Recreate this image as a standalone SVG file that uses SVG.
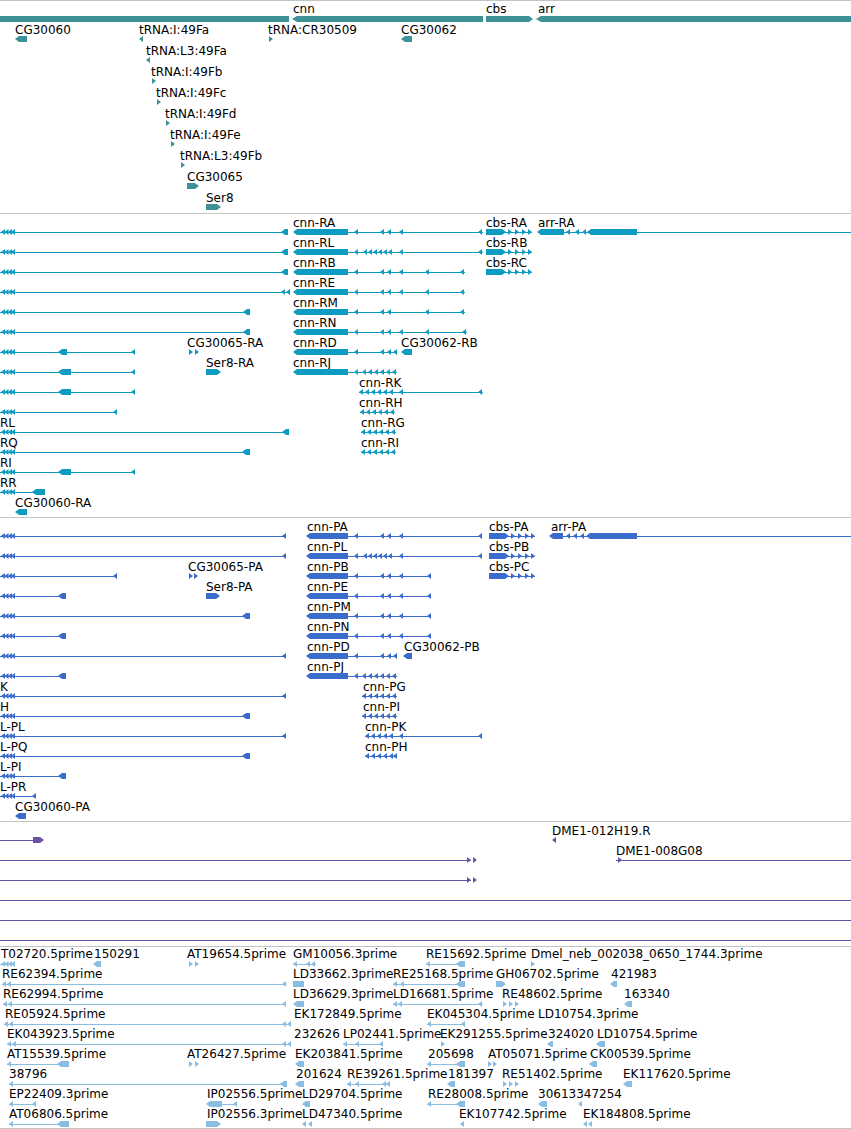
<svg xmlns="http://www.w3.org/2000/svg" width="851" height="1129" viewBox="0 0 851 1129">
<style>
text{font-family:"DejaVu Sans","Liberation Sans",sans-serif;font-size:12px;fill:#000;stroke:none}
.ln{fill:none;stroke:currentColor;stroke-width:1}
.s1{fill:#3e9196;color:#3e9196}
.s2{fill:#0d9bc2;color:#0d9bc2}
.s3{fill:#3a6ccc;color:#3a6ccc}
.s4{fill:#6a52a3;color:#6a52a3}
.s5{fill:#89bde2;color:#89bde2}
.sep{fill:#c4c4c4}
</style>
<defs>
<path id="la" d="M0,0L4,-3V3Z"/>
<path id="ra" d="M0,0L-4,-3V3Z"/>
<g id="l3"><path class="ln" d="M0,0.5H14"/><use href="#la" x="1"/><use href="#la" x="4.5"/><use href="#la" x="8"/><use href="#la" x="11"/></g>
<g id="cbsg"><path class="ln" d="M0,0.5H46"/><path d="M0,-3H16l4,3l-4,3H0z"/><use href="#ra" x="26"/><use href="#ra" x="33"/><use href="#ra" x="40"/><use href="#ra" x="46"/></g>
<g id="clus"><path class="ln" d="M0,0.5H35"/><use href="#la"/><use href="#la" x="6"/><use href="#la" x="12"/><use href="#la" x="18"/><use href="#la" x="24"/><use href="#la" x="30"/></g>
<path id="cnn2" d="M293,0l4,-3H348v6H297z"/>
<path id="cnn3" d="M306,0l4,-3H348v6H310z"/>
</defs>
<rect width="851" height="1129" fill="#fff"/>
<g id="separators" class="sep">
<rect x="0" y="0" width="851" height="1"/>
<rect x="0" y="213" width="851" height="1"/>
<rect x="0" y="517" width="851" height="1"/>
<rect x="0" y="821" width="851" height="1"/>
<rect x="0" y="946" width="851" height="1"/>
<rect x="0" y="1128" width="851" height="1"/>
</g>

<g id="track-genes" class="s1">
<g id="gene-upstream"><path d="M0,16H289V22H0z"/></g>
<g id="gene-cnn"><text x="293" y="13">cnn</text><path d="M292,19l5,-3H483v6H297z"/></g>
<g id="gene-cbs"><text x="486" y="13">cbs</text><path d="M486,16H529l4,3l-4,3H486z"/></g>
<g id="gene-arr"><text x="538" y="13">arr</text><path d="M536,19l5,-3H851v6H541z"/></g>
<g transform="translate(0,39)">
<g id="CG30060"><text x="15" y="-5">CG30060</text><path d="M15,0l4,-3H27v6H19z"/></g>
<g id="tRNA-I-49Fa"><text x="139" y="-5">tRNA:I:49Fa</text><use href="#la" x="139"/></g>
<g id="tRNA-CR30509"><text x="268" y="-5">tRNA:CR30509</text><use href="#ra" x="273"/></g>
<g id="CG30062"><text x="401" y="-5">CG30062</text><path d="M401,0l4,-3H412v6H405z"/></g>
</g>
<g id="tRNA-L3-49Fa" transform="translate(0,60)"><text x="146" y="-5">tRNA:L3:49Fa</text><use href="#la" x="146"/></g>
<g id="tRNA-I-49Fb" transform="translate(0,81)"><text x="151" y="-5">tRNA:I:49Fb</text><use href="#ra" x="156"/></g>
<g id="tRNA-I-49Fc" transform="translate(0,102)"><text x="156" y="-5">tRNA:I:49Fc</text><use href="#ra" x="161"/></g>
<g id="tRNA-I-49Fd" transform="translate(0,123)"><text x="165" y="-5">tRNA:I:49Fd</text><use href="#ra" x="170"/></g>
<g id="tRNA-I-49Fe" transform="translate(0,144)"><text x="170" y="-5">tRNA:I:49Fe</text><use href="#ra" x="175"/></g>
<g id="tRNA-L3-49Fb" transform="translate(0,165)"><text x="180" y="-5">tRNA:L3:49Fb</text><use href="#ra" x="185"/></g>
<g id="CG30065" transform="translate(0,186)"><text x="187" y="-5">CG30065</text><path d="M187,-3H195l4,3l-4,3H187z"/></g>
<g id="Ser8" transform="translate(0,207)"><text x="206" y="-5">Ser8</text><path d="M206,-3H217l4,3l-4,3H206z"/></g>
</g>

<g id="track-transcripts" class="s2">
<g transform="translate(0,232)">
<g id="t2-r0-left"><use href="#l3"/><path class="ln" d="M14,0.5H284"/><path d="M281,0l4,-3H288v6H285z"/></g>
<g id="cnn-RA"><text x="293" y="-5">cnn-RA</text><use href="#cnn2"/><path class="ln" d="M348,0.5H483"/><use href="#la" x="354"/><use href="#la" x="380"/><use href="#la" x="387"/><use href="#la" x="399"/><use href="#la" x="478"/></g>
<g id="cbs-RA"><text x="486" y="-5">cbs-RA</text><use href="#cbsg" x="486"/></g>
<g id="arr-RA"><text x="538" y="-5">arr-RA</text><path class="ln" d="M564,0.5H851"/><path d="M537,0l4,-3H564v6H541z"/><use href="#la" x="566"/><use href="#la" x="575"/><use href="#la" x="582"/><path d="M587,0l4,-3H637v6H591z"/></g>
</g>
<g transform="translate(0,252)">
<g id="t2-r1-left"><use href="#l3"/><path class="ln" d="M14,0.5H284"/><path d="M281,0l4,-3H288v6H285z"/></g>
<g id="cnn-RL"><text x="293" y="-5">cnn-RL</text><use href="#cnn2"/><path class="ln" d="M348,0.5H483"/><use href="#la" x="354"/><use href="#la" x="363"/><use href="#la" x="368"/><use href="#la" x="373"/><use href="#la" x="378"/><use href="#la" x="383"/><use href="#la" x="388"/><use href="#la" x="399"/><use href="#la" x="478"/></g>
<g id="cbs-RB"><text x="486" y="-5">cbs-RB</text><use href="#cbsg" x="486"/></g>
</g>
<g transform="translate(0,272)">
<g id="t2-r2-left"><use href="#l3"/><path class="ln" d="M14,0.5H284"/><path d="M281,0l4,-3H288v6H285z"/></g>
<g id="cnn-RB"><text x="293" y="-5">cnn-RB</text><use href="#cnn2"/><path class="ln" d="M348,0.5H465"/><use href="#la" x="354"/><use href="#la" x="380"/><use href="#la" x="387"/><use href="#la" x="399"/><use href="#la" x="425"/><use href="#la" x="460"/></g>
<g id="cbs-RC"><text x="486" y="-5">cbs-RC</text><use href="#cbsg" x="486"/></g>
</g>
<g transform="translate(0,292)">
<g id="t2-r3-left"><use href="#l3"/><path class="ln" d="M14,0.5H290"/><use href="#la" x="281"/><use href="#la" x="286"/></g>
<g id="cnn-RE"><text x="293" y="-5">cnn-RE</text><use href="#cnn2"/><path class="ln" d="M348,0.5H465"/><use href="#la" x="354"/><use href="#la" x="380"/><use href="#la" x="387"/><use href="#la" x="399"/><use href="#la" x="425"/><use href="#la" x="460"/></g>
</g>
<g transform="translate(0,312)">
<g id="t2-r4-left"><use href="#l3"/><path class="ln" d="M14,0.5H250"/><path d="M243,0l4,-3H250v6H247z"/></g>
<g id="cnn-RM"><text x="293" y="-5">cnn-RM</text><use href="#cnn2"/><path class="ln" d="M348,0.5H465"/><use href="#la" x="354"/><use href="#la" x="380"/><use href="#la" x="387"/><use href="#la" x="425"/><use href="#la" x="460"/></g>
</g>
<g transform="translate(0,332)">
<g id="t2-r5-left"><use href="#l3"/><path class="ln" d="M14,0.5H250"/><path d="M243,0l4,-3H250v6H247z"/></g>
<g id="cnn-RN"><text x="293" y="-5">cnn-RN</text><use href="#cnn2"/><path class="ln" d="M348,0.5H467"/><use href="#la" x="354"/><use href="#la" x="380"/><use href="#la" x="387"/><use href="#la" x="399"/><use href="#la" x="425"/><use href="#la" x="462"/></g>
</g>
<g transform="translate(0,352)">
<g id="t2-r6-left"><use href="#l3"/><path class="ln" d="M14,0.5H135"/><path d="M58,0l4,-3H67v6H62z"/><use href="#la" x="131"/></g>
<g id="CG30065-RA"><text x="187" y="-5">CG30065-RA</text><use href="#ra" x="193"/><use href="#ra" x="199"/></g>
<g id="cnn-RD"><text x="293" y="-5">cnn-RD</text><use href="#cnn2"/><path class="ln" d="M348,0.5H397"/><use href="#la" x="354"/><use href="#la" x="380"/><use href="#la" x="387"/><use href="#la" x="393"/></g>
<g id="CG30062-RB"><text x="401" y="-5">CG30062-RB</text><path d="M401,0l4,-3H412v6H405z"/></g>
</g>
<g transform="translate(0,372)">
<g id="t2-r7-left"><use href="#l3"/><path class="ln" d="M14,0.5H135"/><path d="M58,0l4,-3H71v6H62z"/><use href="#la" x="131"/></g>
<g id="Ser8-RA"><text x="206" y="-5">Ser8-RA</text><path d="M206,-3H217l4,3l-4,3H206z"/></g>
<g id="cnn-RJ"><text x="293" y="-5">cnn-RJ</text><use href="#cnn2"/><path class="ln" d="M348,0.5H362"/><use href="#la" x="354"/><use href="#clus" x="362"/></g>
</g>
<g transform="translate(0,392)">
<g id="t2-r8-left"><use href="#l3"/><path class="ln" d="M14,0.5H135"/><path d="M58,0l4,-3H71v6H62z"/><use href="#la" x="131"/></g>
<g id="cnn-RK"><text x="359" y="-5">cnn-RK</text><path class="ln" d="M359,0.5H483"/><use href="#clus" x="359"/><use href="#la" x="399"/><use href="#la" x="478"/></g>
</g>
<g transform="translate(0,412)">
<g id="t2-r9-left"><use href="#l3"/><path class="ln" d="M14,0.5H117"/><use href="#la" x="113"/></g>
<g id="cnn-RH"><text x="359" y="-5">cnn-RH</text><use href="#clus" x="360"/></g>
</g>
<g transform="translate(0,432)">
<g id="t2-r10-left"><text x="0" y="-5">RL</text><use href="#l3"/><path class="ln" d="M14,0.5H289"/><path d="M282,0l4,-3H289v6H286z"/></g>
<g id="cnn-RG"><text x="361" y="-5">cnn-RG</text><use href="#clus" x="361"/></g>
</g>
<g transform="translate(0,452)">
<g id="t2-r11-left"><text x="0" y="-5">RQ</text><use href="#l3"/><path class="ln" d="M14,0.5H250"/><path d="M242,0l4,-3H250v6H246z"/></g>
<g id="cnn-RI"><text x="361" y="-5">cnn-RI</text><use href="#clus" x="361"/></g>
</g>
<g transform="translate(0,472)">
<g id="t2-r12-left"><text x="0" y="-5">RI</text><use href="#l3"/><path class="ln" d="M14,0.5H135"/><path d="M58,0l4,-3H71v6H62z"/><use href="#la" x="131"/></g>
</g>
<g transform="translate(0,492)">
<g id="t2-r13-left"><text x="0" y="-5">RR</text><use href="#l3"/><path class="ln" d="M14,0.5H45"/><path d="M32,0l4,-3H45v6H36z"/></g>
</g>
<g transform="translate(0,512)">
<g id="CG30060-RA"><text x="15" y="-5">CG30060-RA</text><path d="M15,0l4,-3H27v6H19z"/></g>
</g>
</g>

<g id="track-proteins" class="s3">
<g transform="translate(0,536)">
<g id="t3-r0-left"><use href="#l3"/><path class="ln" d="M14,0.5H286"/><use href="#la" x="282"/></g>
<g id="cnn-PA"><text x="307" y="-5">cnn-PA</text><use href="#cnn3"/><path class="ln" d="M348,0.5H482"/><use href="#la" x="354"/><use href="#la" x="380"/><use href="#la" x="387"/><use href="#la" x="399"/><use href="#la" x="478"/></g>
<g id="cbs-PA"><text x="489" y="-5">cbs-PA</text><use href="#cbsg" x="489"/></g>
<g id="arr-PA"><text x="551" y="-5">arr-PA</text><path class="ln" d="M563,0.5H851"/><path d="M549,0l4,-3H563v6H553z"/><use href="#la" x="566"/><use href="#la" x="573"/><use href="#la" x="580"/><path d="M586,0l4,-3H637v6H590z"/></g>
</g>
<g transform="translate(0,556)">
<g id="t3-r1-left"><use href="#l3"/><path class="ln" d="M14,0.5H286"/><use href="#la" x="282"/></g>
<g id="cnn-PL"><text x="307" y="-5">cnn-PL</text><use href="#cnn3"/><path class="ln" d="M348,0.5H482"/><use href="#la" x="354"/><use href="#la" x="363"/><use href="#la" x="368"/><use href="#la" x="373"/><use href="#la" x="378"/><use href="#la" x="383"/><use href="#la" x="388"/><use href="#la" x="399"/><use href="#la" x="478"/></g>
<g id="cbs-PB"><text x="489" y="-5">cbs-PB</text><use href="#cbsg" x="489"/></g>
</g>
<g transform="translate(0,576)">
<g id="t3-r2-left"><use href="#l3"/><path class="ln" d="M14,0.5H117"/><use href="#la" x="113"/></g>
<g id="CG30065-PA"><text x="188" y="-5">CG30065-PA</text><use href="#ra" x="193"/><use href="#ra" x="198"/></g>
<g id="cnn-PB"><text x="307" y="-5">cnn-PB</text><use href="#cnn3"/><path class="ln" d="M348,0.5H431"/><use href="#la" x="354"/><use href="#la" x="380"/><use href="#la" x="387"/><use href="#la" x="399"/><use href="#la" x="427"/></g>
<g id="cbs-PC"><text x="489" y="-5">cbs-PC</text><use href="#cbsg" x="489"/></g>
</g>
<g transform="translate(0,596)">
<g id="t3-r3-left"><use href="#l3"/><path class="ln" d="M14,0.5H66"/><path d="M58,0l4,-3H66v6H62z"/></g>
<g id="Ser8-PA"><text x="206" y="-5">Ser8-PA</text><path d="M206,-3H216l4,3l-4,3H206z"/></g>
<g id="cnn-PE"><text x="307" y="-5">cnn-PE</text><use href="#cnn3"/><path class="ln" d="M348,0.5H431"/><use href="#la" x="354"/><use href="#la" x="380"/><use href="#la" x="387"/><use href="#la" x="399"/><use href="#la" x="427"/></g>
</g>
<g transform="translate(0,616)">
<g id="t3-r4-left"><use href="#l3"/><path class="ln" d="M14,0.5H250"/><path d="M242,0l4,-3H250v6H246z"/></g>
<g id="cnn-PM"><text x="307" y="-5">cnn-PM</text><use href="#cnn3"/><path class="ln" d="M348,0.5H431"/><use href="#la" x="354"/><use href="#la" x="380"/><use href="#la" x="387"/><use href="#la" x="399"/><use href="#la" x="427"/></g>
</g>
<g transform="translate(0,636)">
<g id="t3-r5-left"><use href="#l3"/><path class="ln" d="M14,0.5H66"/><path d="M58,0l4,-3H66v6H62z"/></g>
<g id="cnn-PN"><text x="307" y="-5">cnn-PN</text><use href="#cnn3"/><path class="ln" d="M348,0.5H431"/><use href="#la" x="354"/><use href="#la" x="380"/><use href="#la" x="387"/><use href="#la" x="399"/><use href="#la" x="427"/></g>
</g>
<g transform="translate(0,656)">
<g id="t3-r6-left"><use href="#l3"/><path class="ln" d="M14,0.5H286"/><use href="#la" x="282"/></g>
<g id="cnn-PD"><text x="307" y="-5">cnn-PD</text><use href="#cnn3"/><path class="ln" d="M348,0.5H397"/><use href="#la" x="354"/><use href="#la" x="380"/><use href="#la" x="387"/><use href="#la" x="393"/></g>
<g id="CG30062-PB"><text x="404" y="-5">CG30062-PB</text><path d="M403,0l4,-3H412v6H407z"/></g>
</g>
<g transform="translate(0,676)">
<g id="t3-r7-left"><use href="#l3"/><path class="ln" d="M14,0.5H66"/><path d="M58,0l4,-3H66v6H62z"/></g>
<g id="cnn-PJ"><text x="307" y="-5">cnn-PJ</text><use href="#cnn3"/><path class="ln" d="M348,0.5H362"/><use href="#la" x="354"/><use href="#clus" x="362"/></g>
</g>
<g transform="translate(0,696)">
<g id="t3-r8-left"><text x="0" y="-5">K</text><use href="#l3"/><path class="ln" d="M14,0.5H286"/><use href="#la" x="282"/></g>
<g id="cnn-PG"><text x="363" y="-5">cnn-PG</text><use href="#clus" x="362"/></g>
</g>
<g transform="translate(0,716)">
<g id="t3-r9-left"><text x="0" y="-5">H</text><use href="#l3"/><path class="ln" d="M14,0.5H250"/><path d="M242,0l4,-3H250v6H246z"/></g>
<g id="cnn-PI"><text x="363" y="-5">cnn-PI</text><use href="#clus" x="362"/></g>
</g>
<g transform="translate(0,736)">
<g id="t3-r10-left"><text x="0" y="-5">L-PL</text><use href="#l3"/><path class="ln" d="M14,0.5H286"/><use href="#la" x="282"/></g>
<g id="cnn-PK"><text x="365" y="-5">cnn-PK</text><path class="ln" d="M365,0.5H482"/><use href="#la" x="365"/><use href="#la" x="371"/><use href="#la" x="377"/><use href="#la" x="383"/><use href="#la" x="389"/><use href="#la" x="399"/><use href="#la" x="478"/></g>
</g>
<g transform="translate(0,756)">
<g id="t3-r11-left"><text x="0" y="-5">L-PQ</text><use href="#l3"/><path class="ln" d="M14,0.5H250"/><path d="M242,0l4,-3H250v6H246z"/></g>
<g id="cnn-PH"><text x="365" y="-5">cnn-PH</text><path class="ln" d="M365,0.5H397"/><use href="#la" x="365"/><use href="#la" x="371"/><use href="#la" x="377"/><use href="#la" x="383"/><use href="#la" x="389"/><use href="#la" x="393"/></g>
</g>
<g transform="translate(0,776)">
<g id="t3-r12-left"><text x="0" y="-5">L-PI</text><use href="#l3"/><path class="ln" d="M14,0.5H66"/><path d="M58,0l4,-3H66v6H62z"/></g>
</g>
<g transform="translate(0,796)">
<g id="t3-r13-left"><text x="0" y="-5">L-PR</text><use href="#l3"/><path class="ln" d="M14,0.5H36"/><use href="#la" x="32"/></g>
</g>
<g transform="translate(0,816)">
<g id="CG30060-PA"><text x="15" y="-5">CG30060-PA</text><path d="M15,0l4,-3H26v6H19z"/></g>
</g>
</g>

<g id="track-clones" class="s4">
<g transform="translate(0,840)">
<g id="c4-r0-left"><path class="ln" d="M0,0.5H37"/><path d="M33,-3H40l4,3l-4,3H33z"/></g>
<g id="DME1-012H19.R"><text x="552" y="-5">DME1-012H19.R</text><use href="#la" x="552"/></g>
</g>
<g transform="translate(0,860)">
<g id="c4-r1-left"><path class="ln" d="M0,0.5H471"/><use href="#ra" x="471"/><use href="#ra" x="477"/></g>
<g id="DME1-008G08"><text x="616" y="-5">DME1-008G08</text><path class="ln" d="M616,0.5H851"/><use href="#ra" x="622"/></g>
</g>
<g transform="translate(0,880)">
<g id="c4-r2-left"><path class="ln" d="M0,0.5H471"/><use href="#ra" x="471"/><use href="#ra" x="477"/></g>
</g>
<g id="c4-r3"><path class="ln" d="M0,900.5H851"/></g>
<g id="c4-r4"><path class="ln" d="M0,920.5H851"/></g>
<g id="c4-r5"><path class="ln" d="M0,940.5H851"/></g>
</g>

<g id="track-ests" class="s5">
<g transform="translate(0,964)">
<g id="AT02720"><text x="1" y="-6">T02720.5prime</text><use href="#l3"/></g>
<g id="est-150291"><text x="94" y="-6">150291</text><path d="M93,0l4,-3H101v6H97z"/></g>
<g id="AT19654"><text x="187" y="-6">AT19654.5prime</text><use href="#ra" x="193"/><use href="#ra" x="199"/></g>
<g id="GM10056"><text x="293" y="-6">GM10056.3prime</text><path class="ln" d="M293,0.5H316"/><use href="#la" x="293"/><use href="#la" x="306"/><use href="#la" x="311"/></g>
<g id="RE15692"><text x="426" y="-6">RE15692.5prime</text><path class="ln" d="M426,0.5H465"/><use href="#la" x="426"/><path d="M456,0l4,-3H465v6H460z"/></g>
<g id="Dmel-neb"><text x="531" y="-6">Dmel_neb_002038_0650_1744.3prime</text><use href="#ra" x="535"/></g>
</g>
<g transform="translate(0,984)">
<g id="RE62394"><text x="2" y="-6">RE62394.5prime</text><path class="ln" d="M2,0.5H286"/><use href="#la" x="2"/><use href="#la" x="7"/><use href="#la" x="282"/></g>
<g id="LD33662"><text x="293" y="-6">LD33662.3prime</text><path d="M293,-3H304v6H293z"/></g>
<g id="RE25168"><text x="393" y="-6">RE25168.5prime</text><path class="ln" d="M393,0.5H465"/><use href="#la" x="393"/><use href="#la" x="400"/><path d="M456,0l4,-3H465v6H460z"/></g>
<g id="GH06702"><text x="496" y="-6">GH06702.5prime</text><path d="M496,-3H502l4,3l-4,3H496z"/></g>
<g id="est-421983"><text x="611" y="-6">421983</text><path d="M610,0l4,-3H617v6H614z"/></g>
</g>
<g transform="translate(0,1004)">
<g id="RE62994"><text x="3" y="-6">RE62994.5prime</text><path class="ln" d="M3,0.5H286"/><use href="#la" x="3"/><use href="#la" x="8"/><use href="#la" x="282"/></g>
<g id="LD36629"><text x="293" y="-6">LD36629.3prime</text><path d="M293,0l4,-3H304v6H297z"/></g>
<g id="LD16681"><text x="393" y="-6">LD16681.5prime</text><path class="ln" d="M393,0.5H483"/><use href="#la" x="393"/><use href="#la" x="398"/><use href="#la" x="478"/></g>
<g id="RE48602"><text x="502" y="-6">RE48602.5prime</text><use href="#ra" x="507"/><use href="#ra" x="513"/><use href="#ra" x="519"/></g>
<g id="est-163340"><text x="624" y="-6">163340</text><path d="M624,0l4,-3H632v6H628z"/></g>
</g>
<g transform="translate(0,1024)">
<g id="RE05924"><text x="5" y="-6">RE05924.5prime</text><path class="ln" d="M4,0.5H291"/><use href="#la" x="4"/><use href="#la" x="9"/><use href="#la" x="282"/><use href="#la" x="287"/></g>
<g id="EK172849"><text x="294" y="-6">EK172849.5prime</text></g>
<g id="EK045304"><text x="427" y="-6">EK045304.5prime</text><path class="ln" d="M427,0.5H465"/><use href="#la" x="427"/><use href="#la" x="461"/></g>
<g id="LD10754-3"><text x="538" y="-6">LD10754.3prime</text></g>
</g>
<g transform="translate(0,1044)">
<g id="EK043923"><text x="7" y="-6">EK043923.5prime</text><path class="ln" d="M7,0.5H289"/><use href="#la" x="7"/><use href="#la" x="12"/><use href="#la" x="282"/><use href="#la" x="287"/></g>
<g id="est-232626"><text x="294" y="-6">232626</text></g>
<g id="LP02441"><text x="343" y="-6">LP02441.5prime</text><path class="ln" d="M343,0.5H383"/><use href="#la" x="343"/><use href="#la" x="355"/><use href="#la" x="379"/></g>
<g id="EK291255"><text x="440" y="-6">EK291255.5prime</text><use href="#ra" x="445"/></g>
<g id="est-324020"><text x="548" y="-6">324020</text><path d="M547,0l4,-3H553v6H551z"/></g>
<g id="LD10754-5"><text x="597" y="-6">LD10754.5prime</text><path d="M596,0l4,-3H605v6H600z"/></g>
</g>
<g transform="translate(0,1064)">
<g id="AT15539"><text x="7" y="-6">AT15539.5prime</text><path class="ln" d="M7,0.5H69"/><use href="#la" x="7"/><path d="M57,0l4,-3H69v6H61z"/></g>
<g id="AT26427"><text x="187" y="-6">AT26427.5prime</text><use href="#ra" x="193"/><use href="#ra" x="199"/></g>
<g id="EK203841"><text x="295" y="-6">EK203841.5prime</text><path d="M295,0l4,-3H304v6H299z"/></g>
<g id="est-205698"><text x="428" y="-6">205698</text><path class="ln" d="M427,0.5H465"/><use href="#la" x="427"/><path d="M456,0l4,-3H465v6H460z"/></g>
<g id="AT05071"><text x="488" y="-6">AT05071.5prime</text><use href="#ra" x="492"/><use href="#ra" x="497"/></g>
<g id="CK00539"><text x="590" y="-6">CK00539.5prime</text><path d="M589,0l4,-3H597v6H593z"/></g>
</g>
<g transform="translate(0,1084)">
<g id="est-38796"><text x="9" y="-6">38796</text><path class="ln" d="M9,0.5H287"/><use href="#la" x="9"/><path d="M280,0l4,-3H287v6H284z"/></g>
<g id="est-201624"><text x="296" y="-6">201624</text><path d="M295,0l4,-3H304v6H299z"/></g>
<g id="RE39261"><text x="347" y="-6">RE39261.5prime</text><path class="ln" d="M347,0.5H390"/><use href="#la" x="347"/><use href="#la" x="355"/><use href="#la" x="382"/><use href="#la" x="386"/></g>
<g id="est-181397"><text x="448" y="-6">181397</text><path d="M447,0l4,-3H455v6H451z"/></g>
<g id="RE51402"><text x="502" y="-6">RE51402.5prime</text><use href="#ra" x="507"/><use href="#ra" x="513"/><use href="#ra" x="519"/></g>
<g id="EK117620"><text x="623" y="-6">EK117620.5prime</text><path d="M623,0l4,-3H632v6H627z"/></g>
</g>
<g transform="translate(0,1104)">
<g id="EP22409"><text x="9" y="-6">EP22409.3prime</text><path class="ln" d="M9,0.5H36"/><use href="#la" x="9"/><use href="#la" x="32"/></g>
<g id="IP02556-5"><text x="207" y="-6">IP02556.5prime</text><path class="ln" d="M222,0.5H237"/><path d="M206,0l4,-3H222v6H210z"/><use href="#la" x="233"/></g>
<g id="LD29704"><text x="302" y="-6">LD29704.5prime</text><path d="M302,0l4,-3H310v6H306z"/></g>
<g id="RE28008"><text x="428" y="-6">RE28008.5prime</text><path class="ln" d="M427,0.5H465"/><use href="#la" x="427"/><path d="M456,0l4,-3H465v6H460z"/></g>
<g id="est-306133-47254"><text x="538" y="-6">30613347254</text><path d="M538,0l4,-3H547v6H542z"/><use href="#la" x="578"/></g>
</g>
<g transform="translate(0,1124)">
<g id="AT06806"><text x="9" y="-6">AT06806.5prime</text><path class="ln" d="M9,0.5H69"/><use href="#la" x="9"/><path d="M57,0l4,-3H69v6H61z"/></g>
<g id="IP02556-3"><text x="207" y="-6">IP02556.3prime</text><path d="M206,-3H217l4,3l-4,3H206z"/></g>
<g id="LD47340"><text x="302" y="-6">LD47340.5prime</text><use href="#la" x="302"/><use href="#la" x="308"/></g>
<g id="EK107742"><text x="459" y="-6">EK107742.5prime</text><use href="#la" x="460"/></g>
<g id="EK184808"><text x="583" y="-6">EK184808.5prime</text><use href="#la" x="583"/><use href="#la" x="588"/></g>
</g>
</g>
</svg>
